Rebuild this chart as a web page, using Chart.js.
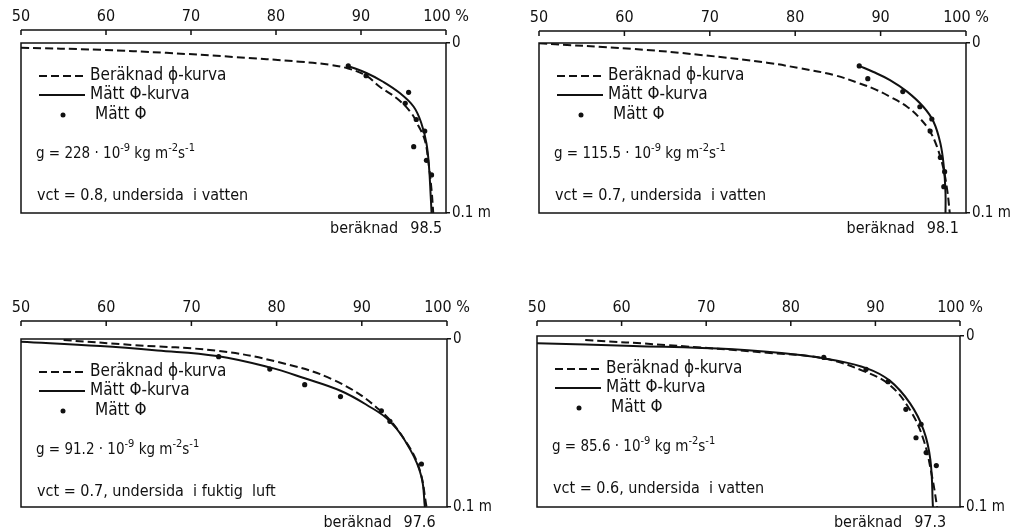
<!DOCTYPE html>
<html>
<head>
<meta charset="utf-8">
<script src="https://cdn.jsdelivr.net/npm/chart.js@4.4.1/dist/chart.umd.min.js"></script>
<style>
  html, body { margin: 0; padding: 0; background: #fff; }
  #sheet { position: relative; width: 1014px; height: 532px; overflow: hidden; }
  .panel { position: absolute; }
</style>
</head>
<body>
<div id="sheet">
  <div class="panel" id="f1"><canvas id="c1"></canvas></div>
  <div class="panel" id="f2"><canvas id="c2"></canvas></div>
  <div class="panel" id="f3"><canvas id="c3"></canvas></div>
  <div class="panel" id="f4"><canvas id="c4"></canvas></div>
</div>
<script>
// Axes: relativ fuktighet (%) överst, djup (m) till höger
const rhTicks = [50, 60, 70, 80, 90, 100];
const rhTickLabels = ['50', '60', '70', '80', '90', '100 %'];
const depthTicks = [0, 0.1];
const depthTickLabels = ['0', '0.1 m'];

// Beräknad ϕ-kurva [RF %, djup m]; sista punkten läggs till från endRH
const calc1 = [[50, 0.0028], [59.3, 0.004], [67.1, 0.0058], [75, 0.0082], [82.8, 0.011], [86.3, 0.0128], [88.5, 0.015], [90.6, 0.0192], [92.2, 0.0257], [94.2, 0.0325], [95.8, 0.0404], [96.7, 0.0482], [97.5, 0.057], [97.9, 0.0688], [98.3, 0.0865]];
const calc2 = [[50, 0.0002], [61, 0.0035], [68.9, 0.007], [76.7, 0.0116], [80.6, 0.0149], [84.5, 0.0188], [87.5, 0.0237], [89.1, 0.0267], [91.1, 0.0316], [93.1, 0.0375], [94.6, 0.0443], [95.8, 0.0522], [96.6, 0.061], [97.3, 0.0727], [97.8, 0.0865]];
const calc3 = [[55, 0.0006], [63.2, 0.0036], [73, 0.007], [80, 0.0135], [86.7, 0.0244], [92.1, 0.0423], [95.3, 0.0621], [96.8, 0.078]];
const calc4 = [[55.7, 0.0023], [65.3, 0.0053], [77.2, 0.0098], [83.8, 0.013], [88.6, 0.0205], [91.7, 0.0287], [94.1, 0.0433], [95.7, 0.0608], [96.7, 0.0823]];
const endRH = [98.5, 98.1, 97.6, 97.3];

// Mätt ϕ-kurva
const meas1 = [[88.5, 0.0135], [90.7, 0.0178], [92.6, 0.0228], [94.6, 0.0296], [96.2, 0.0375], [97.1, 0.0472], [97.7, 0.059], [98, 0.0727], [98.2, 0.09], [98.3, 0.1]];
const meas2 = [[87.5, 0.0135], [89.1, 0.0169], [91.1, 0.0218], [93.1, 0.0286], [95, 0.0375], [96.2, 0.0463], [97, 0.059], [97.4, 0.0727], [97.6, 0.0884], [97.6, 0.1]];
const meas3 = [[50, 0.0016], [59.3, 0.0042], [66, 0.0068], [73, 0.0101], [79.2, 0.0169], [83.3, 0.0234], [87.5, 0.0308], [90.5, 0.039], [93.3, 0.049], [95.7, 0.066], [97, 0.082], [97.4, 0.1]];
const meas4 = [[50, 0.0043], [61.4, 0.0058], [73.2, 0.0078], [81.1, 0.0111], [85, 0.014], [89, 0.0189], [91.7, 0.0261], [94.1, 0.0394], [95.7, 0.055], [96.5, 0.0725], [96.8, 0.1]];

// Mätt ϕ, enskilda mätpunkter
const dots1 = [[88.5, 0.0135], [90.6, 0.0192], [95.6, 0.029], [95.2, 0.0355], [96.5, 0.045], [97.5, 0.0518], [96.2, 0.061], [97.7, 0.069], [98.3, 0.0776]];
const dots2 = [[87.5, 0.0135], [88.5, 0.021], [92.6, 0.0286], [94.6, 0.0375], [96, 0.0447], [95.8, 0.0518], [97, 0.0673], [97.5, 0.0757], [97.4, 0.0845]];
const dots3 = [[73.2, 0.0105], [79.2, 0.0179], [83.3, 0.0272], [87.5, 0.0343], [92.3, 0.0427], [93.3, 0.049], [97, 0.0744]];
const dots4 = [[83.9, 0.0125], [88.9, 0.0195], [91.5, 0.0267], [93.6, 0.0429], [95.4, 0.0516], [94.8, 0.0595], [96, 0.0682], [97.2, 0.0758]];

const gValues = ['228', '115.5', '91.2', '85.6'];
const vctTexts = [
  'vct = 0.8, undersida  i vatten',
  'vct = 0.7, undersida  i vatten',
  'vct = 0.7, undersida  i fuktig  luft',
  'vct = 0.6, undersida  i vatten'
];
const legendTexts = ['Beräknad ϕ-kurva', 'Mätt Φ-kurva', 'Mätt Φ'];

const ink = '#111';
const family = "'DejaVu Sans Condensed', 'DejaVu Sans', sans-serif";

// Placering av varje diagram på sidan (ram = canvas, box = ritytan)
const frames = [
  { frame: { left: 0, top: 0, width: 510, height: 245 }, box: { left: 21, top: 43, right: 446, bottom: 213 }, gap: 13 },
  { frame: { left: 500, top: 0, width: 514, height: 245 }, box: { left: 539, top: 43, right: 966, bottom: 213 }, gap: 12 },
  { frame: { left: 0, top: 285, width: 510, height: 247 }, box: { left: 21, top: 339, right: 447, bottom: 507 }, gap: 18 },
  { frame: { left: 500, top: 285, width: 514, height: 247 }, box: { left: 537, top: 336, right: 960, bottom: 507 }, gap: 15 }
];

const toPts = arr => arr.map(([x, y]) => ({ x, y }));

// text med upphöjda delar, t.ex. 10^-9
function drawParts(ctx, parts, x, y) {
  parts.forEach(([txt, sup]) => {
    ctx.font = (sup ? '11px ' : '15px ') + family;
    ctx.fillText(txt, x, sup ? y - 7 : y);
    x += ctx.measureText(txt).width;
  });
}

// Ram, skala överst, legend och texter i diagrammet
const panelDecor = {
  id: 'panelDecor',
  afterDraw(chart, args, opts) {
    const { ctx, scales: { x, y } } = chart;
    const L = x.getPixelForValue(50), R = x.getPixelForValue(100);
    const T = y.getPixelForValue(0), B = y.getPixelForValue(0.1);
    ctx.save();
    ctx.strokeStyle = ink;
    ctx.fillStyle = ink;
    ctx.lineWidth = 1.5;
    ctx.strokeRect(L, T, R - L, B - T);

    // top scale line with ticks pointing down
    const ay = T - opts.gap;
    ctx.beginPath();
    ctx.moveTo(L, ay);
    ctx.lineTo(R, ay);
    x.ticks.forEach(t => {
      const px = x.getPixelForValue(t.value);
      ctx.moveTo(px, ay);
      ctx.lineTo(px, ay + 5);
    });
    ctx.stroke();

    // legend
    const rows = [T + 33, T + 52, T + 72];
    ctx.lineWidth = 2;
    ctx.setLineDash([8, 4]);
    ctx.beginPath(); ctx.moveTo(L + 18, rows[0]); ctx.lineTo(L + 64, rows[0]); ctx.stroke();
    ctx.setLineDash([]);
    ctx.beginPath(); ctx.moveTo(L + 18, rows[1]); ctx.lineTo(L + 64, rows[1]); ctx.stroke();
    ctx.beginPath(); ctx.arc(L + 42, rows[2], 2.5, 0, Math.PI * 2); ctx.fill();

    ctx.textBaseline = 'middle';
    ctx.textAlign = 'left';
    ctx.font = '17px ' + family;
    ctx.fillText(legendTexts[0], L + 69, rows[0]);
    ctx.fillText(legendTexts[1], L + 69, rows[1]);
    ctx.fillText(legendTexts[2], L + 74, rows[2]);

    ctx.textBaseline = 'alphabetic';
    drawParts(ctx, [['g = ' + opts.g + ' · 10', 0], ['-9', 1], [' kg m', 0], ['-2', 1], ['s', 0], ['-1', 1]], L + 15, T + 115);
    ctx.font = '16px ' + family;
    ctx.fillText(opts.vct, L + 16, T + 157);

    // beräknat slutvärde under ramen
    const ex = x.getPixelForValue(opts.end) - 7;
    ctx.textAlign = 'center';
    ctx.fillText(String(opts.end), ex, B + 20);
    const nw = ctx.measureText(String(opts.end)).width;
    ctx.textAlign = 'right';
    ctx.fillText('beräknad', ex - nw / 2 - 12, B + 20);
    ctx.restore();
  }
};

const calcs = [calc1, calc2, calc3, calc4];
const meass = [meas1, meas2, meas3, meas4];
const dotss = [dots1, dots2, dots3, dots4];

frames.forEach((p, i) => {
  const wrap = document.getElementById('f' + (i + 1));
  wrap.style.left = p.frame.left + 'px';
  wrap.style.top = p.frame.top + 'px';
  wrap.style.width = p.frame.width + 'px';
  wrap.style.height = p.frame.height + 'px';

  new Chart(document.getElementById('c' + (i + 1)), {
    type: 'scatter',
    data: {
      datasets: [{
        label: 'Beräknad ϕ-kurva',
        data: toPts(calcs[i].concat([[endRH[i], 0.1]])),
        showLine: true,
        borderColor: ink,
        borderWidth: 2,
        borderDash: [8, 4],
        pointRadius: 0,
        tension: 0.4
      },
      {
        label: 'Mätt Φ-kurva',
        data: toPts(meass[i]),
        showLine: true,
        borderColor: ink,
        borderWidth: 2,
        pointRadius: 0,
        tension: 0.4
      },
      {
        label: 'Mätt Φ',
        data: toPts(dotss[i]),
        showLine: false,
        pointRadius: 2.6,
        pointBorderWidth: 0,
        pointBackgroundColor: ink
      }]
    },
    options: {
      responsive: true,
      maintainAspectRatio: false,
      animation: false,
      events: [],
      layout: {
        padding: {
          left: p.box.left - p.frame.left,
          right: 0,
          top: 0,
          bottom: p.frame.top + p.frame.height - p.box.bottom
        }
      },
      plugins: {
        legend: { display: false },
        tooltip: { enabled: false },
        panelDecor: { gap: p.gap, g: gValues[i], vct: vctTexts[i], end: endRH[i] }
      },
      scales: {
        x: {
          type: 'linear',
          position: 'top',
          min: 50,
          max: 100,
          afterBuildTicks: s => { s.ticks = rhTicks.map(v => ({ value: v })); },
          afterFit: s => {
            s.height = p.box.top - p.frame.top;
            s.paddingLeft = 0;
            s.paddingRight = 0;
          },
          grid: { display: false, drawTicks: false },
          border: { display: false },
          ticks: {
            padding: p.gap + 4,
            color: ink,
            maxRotation: 0,
            autoSkip: false,
            font: { family, size: 16 },
            callback: (v, idx) => rhTickLabels[idx]
          }
        },
        y: {
          type: 'linear',
          position: 'right',
          reverse: true,
          min: 0,
          max: 0.1,
          afterBuildTicks: s => { s.ticks = depthTicks.map(v => ({ value: v })); },
          afterFit: s => { s.width = p.frame.left + p.frame.width - p.box.right; },
          grid: { drawOnChartArea: false, tickLength: 4, color: ink, lineWidth: 1.5 },
          border: { display: false },
          ticks: {
            padding: 2,
            color: ink,
            font: { family, size: 15 },
            callback: (v, idx) => depthTickLabels[idx]
          }
        }
      }
    },
    plugins: [panelDecor]
  });
});
</script>
</body>
</html>
